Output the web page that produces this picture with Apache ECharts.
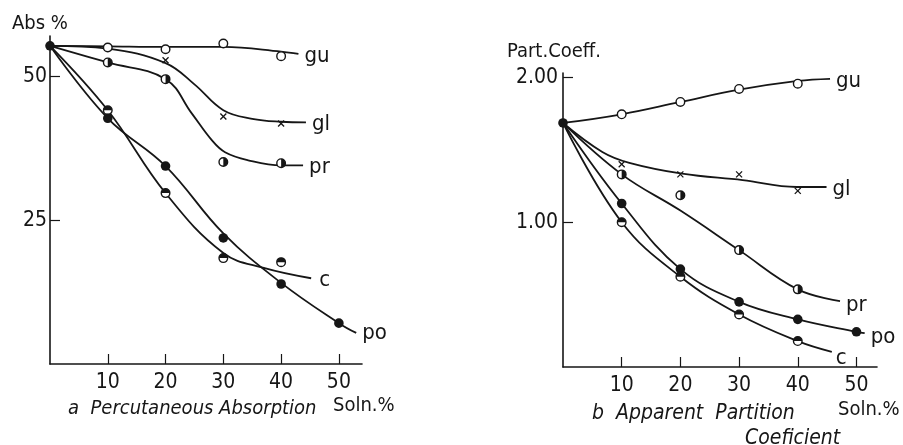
<!DOCTYPE html>
<html>
<head>
<meta charset="utf-8">
<script src="https://cdn.jsdelivr.net/npm/echarts@6/dist/echarts.min.js"></script>
<style>
  html, body { margin: 0; padding: 0; background: #fff; }
  #chart { width: 903px; height: 445px; }
</style>
</head>
<body>
<div id="chart"></div>
<script>
// ---------- tick labels ----------
const xTicks = [10, 20, 30, 40, 50];
const absYTicks = [25, 50];
const pcYTicks = [1.0, 2.0];

// ---------- a: Percutaneous Absorption (Abs %) ----------
const absStart = [[0, 55.3]];
// measured points
const absGuPts = [[10, 55.0], [20, 54.7], [30, 55.7], [40, 53.5]];
const absGlPts = [[20, 52.8], [30, 43.0], [40, 41.8]];
const absPrPts = [[10, 52.4], [20, 49.5], [30, 35.1], [40, 34.9]];
const absCPts  = [[10, 44.1], [20, 29.7], [30, 18.4], [40, 17.7]];
const absPoPts = [[10, 42.7], [20, 34.4], [30, 21.9], [40, 13.9], [50, 7.1]];
// hand-drawn fitted curves
const absGuCurve = [[0, 55.3], [10, 55.2], [20, 55.1], [30, 55.1], [40, 54.3], [43, 53.9]];
const absGlCurve = [[0, 55.3], [10, 54.8], [20, 52.3], [25, 48.6], [30, 44.1], [35, 42.6], [40, 42.1], [44.3, 42.0]];
const absPrCurve = [[0, 55.3], [10, 52.4], [20, 49.5], [24.5, 43.6], [28, 38.9], [30.3, 36.8], [34.3, 35.4], [40, 34.5], [43.8, 34.5]];
const absCCurve  = [[0, 55.3], [10, 44.1], [20, 29.7], [30, 19.3], [37, 16.7], [45.2, 14.9]];
const absPoCurve = [[0, 55.3], [10, 42.7], [20, 34.4], [30, 22.7], [40, 14.1], [50, 7.1], [53, 5.4]];

// ---------- b: Apparent Partition Coefficient ----------
const pcStart = [[0, 1.685]];
const pcGuPts = [[10, 1.745], [20, 1.83], [30, 1.92], [40, 1.956]];
const pcGlPts = [[10, 1.40], [20, 1.33], [30, 1.33], [40, 1.216]];
const pcPrPts = [[10, 1.33], [20, 1.186], [30, 0.807], [40, 0.536]];
const pcPoPts = [[10, 1.129], [20, 0.676], [30, 0.45], [40, 0.329], [50, 0.243]];
const pcCPts  = [[10, 1.0], [20, 0.623], [30, 0.363], [40, 0.179]];
const pcGuCurve = [[0, 1.685], [10, 1.745], [20, 1.83], [30, 1.915], [40, 1.975], [45.5, 1.99]];
const pcGlCurve = [[0, 1.685], [6.7, 1.485], [11.3, 1.41], [20.3, 1.335], [30.6, 1.29], [39.8, 1.243], [44.9, 1.243]];
const pcPrCurve = [[0, 1.685], [10, 1.33], [20, 1.08], [30, 0.807], [40, 0.536], [47.2, 0.455]];
const pcPoCurve = [[0, 1.685], [10, 1.129], [20, 0.676], [30, 0.45], [40, 0.329], [50, 0.243], [51.4, 0.234]];
const pcCCurve  = [[0, 1.685], [10, 1.0], [20, 0.623], [30, 0.363], [40, 0.179], [45.8, 0.105]];

const INK = '#161616';
const NUM_FONT = '"Liberation Sans Narrow", "DejaVu Sans Condensed", sans-serif';

function curve(name, data, gi, labelOffset) {
  return {
    name: name, type: 'line', xAxisIndex: gi, yAxisIndex: gi,
    data: data, smooth: 0.4,
    showSymbol: false, symbol: 'none', silent: true,
    lineStyle: { color: INK, width: 1.8 },
    endLabel: {
      show: true, formatter: '{a}', color: INK, fontSize: 22,
      fontFamily: NUM_FONT, offset: labelOffset || [0, 0], distance: 6
    },
    z: 2
  };
}

function markers(data, gi, kind) {
  return {
    type: 'custom', xAxisIndex: gi, yAxisIndex: gi, data: data, z: 5, silent: true,
    renderItem: function (params, api) {
      const p = api.coord([api.value(0), api.value(1)]);
      const r = 4.3;
      const stroke = { stroke: INK, lineWidth: 1.4 };
      if (kind === 'cross') {
        const d = 3;
        return { type: 'group', children: [
          { type: 'line', shape: { x1: p[0] - d, y1: p[1] - d, x2: p[0] + d, y2: p[1] + d }, style: { stroke: INK, lineWidth: 1.3 } },
          { type: 'line', shape: { x1: p[0] - d, y1: p[1] + d, x2: p[0] + d, y2: p[1] - d }, style: { stroke: INK, lineWidth: 1.3 } }
        ]};
      }
      if (kind === 'filled') {
        return { type: 'circle', shape: { cx: p[0], cy: p[1], r: r + 0.5 }, style: { fill: INK } };
      }
      const children = [{ type: 'circle', shape: { cx: p[0], cy: p[1], r: r }, style: Object.assign({ fill: '#fff' }, stroke) }];
      if (kind === 'halfRight') {
        children.push({ type: 'sector', shape: { cx: p[0], cy: p[1], r0: 0, r: r, startAngle: -Math.PI / 2, endAngle: Math.PI / 2, clockwise: true }, style: { fill: INK } });
      } else if (kind === 'halfTop') {
        children.push({ type: 'sector', shape: { cx: p[0], cy: p[1], r0: 0, r: r, startAngle: Math.PI, endAngle: 2 * Math.PI, clockwise: true }, style: { fill: INK } });
      }
      return { type: 'group', children: children };
    }
  };
}

function xAxisDef(gi, max) {
  return {
    type: 'value', gridIndex: gi, min: 0, max: max,
    axisLine: { show: true, lineStyle: { color: INK, width: 1.6 } },
    axisTick: { show: true, inside: true, length: 10, customValues: xTicks, lineStyle: { color: INK, width: 1.2 } },
    axisLabel: { show: true, customValues: xTicks, color: INK, fontSize: 21, fontFamily: NUM_FONT, margin: 8 },
    splitLine: { show: false }
  };
}
function yAxisDef(gi, max, ticks, fmt, margin) {
  return {
    type: 'value', gridIndex: gi, min: 0, max: max,
    axisLine: { show: true, lineStyle: { color: INK, width: 1.6 } },
    axisTick: { show: true, inside: true, length: 10, customValues: ticks, lineStyle: { color: INK, width: 1.2 } },
    axisLabel: { show: true, customValues: ticks, formatter: fmt, color: INK, fontSize: 21, fontFamily: NUM_FONT, margin: margin },
    splitLine: { show: false }
  };
}

const chart = echarts.init(document.getElementById('chart'), null, { renderer: 'canvas' });
chart.setOption({
  backgroundColor: '#fff',
  animation: false,
  grid: [
    { left: 50, top: 36, width: 312, bottom: 81 },
    { left: 563, top: 73, width: 314, bottom: 78 }
  ],
  xAxis: [xAxisDef(0, 54), xAxisDef(1, 53.5)],
  yAxis: [
    yAxisDef(0, 57, absYTicks, function (v) { return String(v); }, 3),
    yAxisDef(1, 2.03, pcYTicks, function (v) { return v.toFixed(2); }, 5)
  ],
  series: [
    curve('gu', absGuCurve, 0, [0, 2]),
    curve('gl', absGlCurve, 0, [0, 2]),
    curve('pr', absPrCurve, 0, [0, 2]),
    curve('c', absCCurve, 0, [2, 2]),
    curve('po', absPoCurve, 0, [0, 0]),
    markers(absGuPts, 0, 'open'),
    markers(absGlPts, 0, 'cross'),
    markers(absPrPts, 0, 'halfRight'),
    markers(absCPts, 0, 'halfTop'),
    markers(absPoPts, 0, 'filled'),
    markers(absStart, 0, 'filled'),

    curve('gu', pcGuCurve, 1, [0, 2]),
    curve('gl', pcGlCurve, 1, [0, 2]),
    curve('pr', pcPrCurve, 1, [0, 4]),
    curve('po', pcPoCurve, 1, [0, 4]),
    curve('c', pcCCurve, 1, [-2, 6]),
    markers(pcGuPts, 1, 'open'),
    markers(pcGlPts, 1, 'cross'),
    markers(pcPrPts, 1, 'halfRight'),
    markers(pcPoPts, 1, 'filled'),
    markers(pcCPts, 1, 'halfTop'),
    markers(pcStart, 1, 'filled')
  ],
  graphic: [
    { type: 'text', left: 12, top: 14, style: { text: 'Abs %', fill: INK, fontSize: 20, fontFamily: NUM_FONT } },
    { type: 'text', left: 507, top: 42, style: { text: 'Part.Coeff.', fill: INK, fontSize: 20, fontFamily: NUM_FONT } },
    { type: 'text', left: 68, top: 399, style: { text: 'a  Percutaneous Absorption', fill: INK, fontSize: 20, fontStyle: 'italic', fontFamily: NUM_FONT } },
    { type: 'text', left: 333, top: 396, style: { text: 'Soln.%', fill: INK, fontSize: 20, fontFamily: NUM_FONT } },
    { type: 'text', left: 592, top: 403, style: { text: 'b  Apparent  Partition', fill: INK, fontSize: 21, fontStyle: 'italic', fontFamily: NUM_FONT } },
    { type: 'text', left: 838, top: 400, style: { text: 'Soln.%', fill: INK, fontSize: 20, fontFamily: NUM_FONT } },
    { type: 'text', left: 745, top: 428, style: { text: 'Coeficient', fill: INK, fontSize: 21, fontStyle: 'italic', fontFamily: NUM_FONT } }
  ]
});
</script>
</body>
</html>
